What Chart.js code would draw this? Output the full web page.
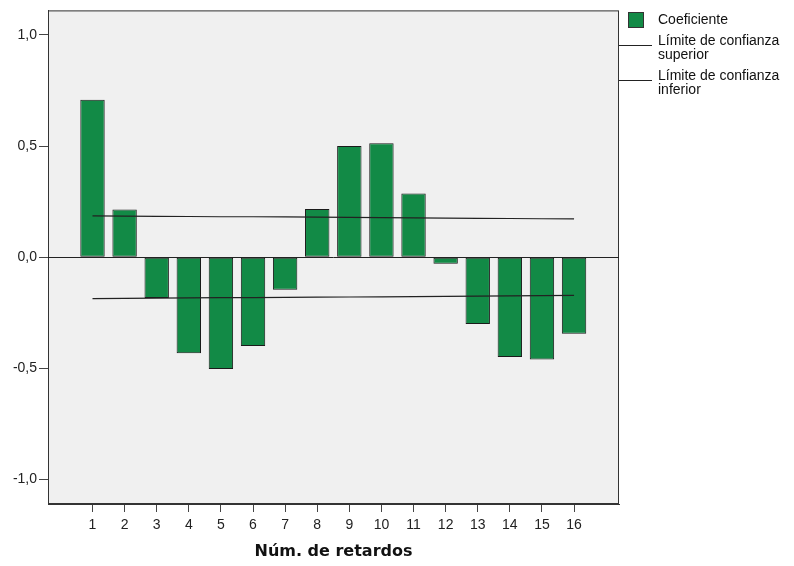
<!DOCTYPE html>
<html>
<head>
<meta charset="utf-8">
<script src="https://cdn.jsdelivr.net/npm/chart.js@4.4.1/dist/chart.umd.min.js"></script>
<style>
  html, body { margin: 0; padding: 0; background: #fff; }
  #wrap { position: relative; width: 794px; height: 566px; }
  #acf { position: absolute; left: 0; top: 0; }
  .leg { position: absolute; font: 14px "Liberation Sans", Arial, sans-serif; color: #111; line-height: 14px; }
  .swatch { position: absolute; left: 628px; top: 12px; width: 14px; height: 14px; background: #128a46; border: 1px solid #333; }
  .legline { position: absolute; left: 619px; width: 33px; height: 0; border-top: 1px solid #222; }
</style>
</head>
<body>
<div id="wrap">
  <canvas id="acf" width="794" height="566"></canvas>
  <div class="swatch"></div>
  <div class="leg" style="left:658px; top:12px;">Coeficiente</div>
  <div class="legline" style="top:45px;"></div>
  <div class="leg" style="left:658px; top:33px;">Límite de confianza<br>superior</div>
  <div class="legline" style="top:80px;"></div>
  <div class="leg" style="left:658px; top:68px;">Límite de confianza<br>inferior</div>
</div>
<script>
const lags         = [1, 2, 3, 4, 5, 6, 7, 8, 9, 10, 11, 12, 13, 14, 15, 16];
const coefficients = [0.708, 0.214, -0.184, -0.432, -0.503, -0.399, -0.146, 0.217,
                      0.500, 0.512, 0.286, -0.030, -0.300, -0.449, -0.460, -0.344];
const upperLimit   = [0.186, 0.185, 0.184, 0.183, 0.182, 0.182, 0.181, 0.180,
                      0.179, 0.178, 0.177, 0.176, 0.175, 0.174, 0.173, 0.172];
const lowerLimit   = [-0.186, -0.185, -0.184, -0.183, -0.182, -0.182, -0.181, -0.180,
                      -0.179, -0.178, -0.177, -0.176, -0.175, -0.174, -0.173, -0.172];
const yTicks       = [-1.0, -0.5, 0.0, 0.5, 1.0];

const FONT = '"Liberation Sans", Arial, sans-serif';
const BAR_GREEN = "#128a46";

// ── Fond gris, cadre et ligne zéro ──────────────────────────────────
const frame = {
  id: "frame",
  beforeDraw(chart) {
    const { ctx, chartArea: a } = chart;
    ctx.save();
    ctx.fillStyle = "#f0f0f0";
    ctx.fillRect(a.left, a.top, a.right - a.left, a.bottom - a.top);
    ctx.restore();
  },
  afterDraw(chart) {
    const { ctx, chartArea: a, scales } = chart;
    const y0 = Math.round(scales.y.getPixelForValue(0)) + 0.5;
    ctx.save();
    ctx.strokeStyle = "#333";
    ctx.lineWidth = 1;
    ctx.strokeRect(a.left + 0.5, a.top + 0.5, a.right - a.left - 1, a.bottom - a.top - 1);
    ctx.strokeStyle = "#222";
    ctx.beginPath();
    ctx.moveTo(a.left, y0);
    ctx.lineTo(a.right, y0);
    ctx.stroke();
    ctx.restore();
  },
};

const toPoints = (vals) => lags.map((x, i) => ({ x, y: vals[i] }));

new Chart(document.getElementById("acf"), {
  type: "bar",
  data: {
    datasets: [
      {
        label: "Coeficiente",
        data: toPoints(coefficients),
        backgroundColor: BAR_GREEN,
        borderColor: "#1a1a1a",
        borderWidth: 1,
        borderSkipped: false,
        categoryPercentage: 1,
        barPercentage: 0.76,
        order: 2,
      },
      {
        type: "line",
        label: "Límite de confianza superior",
        data: toPoints(upperLimit),
        borderColor: "#222",
        borderWidth: 1.2,
        pointRadius: 0,
        order: 1,
      },
      {
        type: "line",
        label: "Límite de confianza inferior",
        data: toPoints(lowerLimit),
        borderColor: "#222",
        borderWidth: 1.2,
        pointRadius: 0,
        order: 1,
      },
    ],
  },
  options: {
    responsive: false,
    animation: false,
    layout: { padding: { top: 9, right: 175, left: 0, bottom: 0 } },
    plugins: { legend: { display: false }, tooltip: { enabled: false } },
    scales: {
      x: {
        type: "linear",
        offset: false,
        min: -0.386,
        max: 17.4,
        afterBuildTicks: (s) => { s.ticks = lags.map((v) => ({ value: v })); },
        afterFit: (s) => { s.height = 62; },
        grid: { offset: false, drawOnChartArea: false, drawTicks: true, tickLength: 8, color: "#444" },
        border: { display: true, color: "#333" },
        ticks: { color: "#222", font: { family: FONT, size: 14 }, padding: 5, maxRotation: 0, autoSkip: false },
        title: {
          display: true,
          text: "Núm. de retardos",
          color: "#111",
          font: { family: '"DejaVu Sans", sans-serif', size: 16, weight: "bold" },
          padding: { top: 6, bottom: 5 },
        },
      },
      y: {
        min: -1.11,
        max: 1.11,
        afterBuildTicks: (s) => { s.ticks = yTicks.map((v) => ({ value: v })); },
        afterFit: (s) => { s.width = 48; },
        grid: { drawOnChartArea: false, drawTicks: true, tickLength: 9, color: "#444" },
        border: { display: true, color: "#333" },
        ticks: {
          color: "#222",
          font: { family: FONT, size: 14 },
          padding: 2,
          callback: (v) => v.toFixed(1).replace(".", ","),
        },
      },
    },
  },
  plugins: [frame],
});
</script>
</body>
</html>
